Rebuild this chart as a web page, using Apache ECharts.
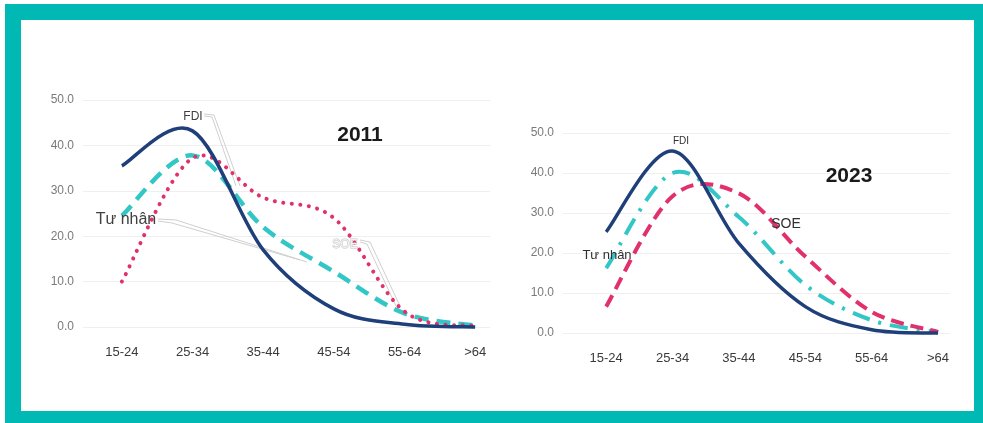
<!DOCTYPE html>
<html>
<head>
<meta charset="utf-8">
<script src="https://cdn.jsdelivr.net/npm/echarts@6/dist/echarts.min.js"></script>
<style>
  html, body { margin: 0; padding: 0; background: #ffffff; }
  #frame { position: absolute; left: 5px; top: 4px; width: 978px; height: 419px; background: #00B8B4; }
  #inner { position: absolute; left: 21px; top: 20px; width: 953px; height: 391px; background: #ffffff; }
  #chart { position: absolute; left: 0; top: 0; width: 983px; height: 423px; }
</style>
</head>
<body>
<div id="frame"></div>
<div id="inner"></div>
<div id="chart"></div>
<script>
// ---- data ----
const categories = ['15-24', '25-34', '35-44', '45-54', '55-64', '>64'];
const yTicks = [0, 10, 20, 30, 40, 50];
const fdi2011 = [35.5, 43.2, 17.0, 4.0, 0.6, 0.0];
const tuNhan2011 = [24.5, 37.8, 22.0, 12.2, 3.0, 0.3];
const soe2011 = [10.0, 37.2, 28.5, 24.0, 3.4, 0.2];
const fdi2023 = [25.3, 45.5, 22.4, 6.6, 0.8, 0.0];
const tuNhan2023 = [16.2, 40.0, 29.0, 12.0, 3.2, 0.2];
const soe2023 = [6.6, 34.2, 34.9, 19.1, 5.3, 0.3];

const NAVY = '#1F3F7A';
const TEAL = '#33C6C6';
const PINK = '#E2306C';
const FONT = "'Liberation Sans', Arial, sans-serif";

function pts(arr) { return arr.map((v, i) => [i, v]); }

function xAxis(gridIndex, min, max) {
  return {
    type: 'value', gridIndex, min, max,
    axisLine: { show: false }, axisTick: { show: false }, splitLine: { show: false },
    axisLabel: {
      customValues: categories.map((c, i) => i),
      formatter: v => categories[Math.round(v)],
      margin: 19, color: '#3a3a3a', fontSize: 13, fontFamily: FONT
    }
  };
}
function yAxis(gridIndex) {
  return {
    type: 'value', gridIndex, min: yTicks[0], max: yTicks[yTicks.length - 1], interval: 10,
    axisLine: { show: false }, axisTick: { show: false },
    splitLine: { lineStyle: { color: '#efefef', width: 1 } },
    axisLabel: { formatter: v => v.toFixed(1), margin: 9, color: '#7a7a7a', fontSize: 12, fontFamily: FONT }
  };
}
// Spreadsheet-style smoothed line (Catmull-Rom through the data points, via the axes' coord())
function curve(name, data, xi, color, width, dash, cap) {
  return {
    name, type: 'custom', xAxisIndex: xi, yAxisIndex: xi, data: pts(data),
    encode: { x: 0, y: 1 },
    renderItem: function (params, api) {
      if (params.dataIndex !== 0) return;
      const p = data.map((v, i) => api.coord([i, v]));
      let d = 'M' + p[0][0] + ' ' + p[0][1];
      for (let i = 0; i < p.length - 1; i++) {
        const p0 = p[Math.max(i - 1, 0)], p1 = p[i], p2 = p[i + 1], p3 = p[Math.min(i + 2, p.length - 1)];
        const c1 = [p1[0] + (p2[0] - p0[0]) / 6, p1[1] + (p2[1] - p0[1]) / 6];
        const c2 = [p2[0] - (p3[0] - p1[0]) / 6, p2[1] - (p3[1] - p1[1]) / 6];
        d += ' C' + c1[0] + ' ' + c1[1] + ' ' + c2[0] + ' ' + c2[1] + ' ' + p2[0] + ' ' + p2[1];
      }
      return {
        type: 'path', shape: { pathData: d },
        style: { fill: null, stroke: color, lineWidth: width, lineDash: dash, lineCap: cap || 'butt', lineJoin: 'round' }
      };
    }
  };
}

const chart = echarts.init(document.getElementById('chart'), null, { renderer: 'canvas' });
const leaderStyle = { stroke: '#cfcfcf', lineWidth: 1, fill: null };
chart.setOption({
  backgroundColor: 'transparent',
  animation: false,
  grid: [
    { left: 83, top: 100, width: 407, height: 227 },
    { left: 563, top: 133, width: 387, height: 200 }
  ],
  xAxis: [xAxis(0, -0.55, 5.21), xAxis(1, -0.65, 5.18)],
  yAxis: [yAxis(0), yAxis(1)],
  series: [
    curve('Tư nhân 2011', tuNhan2011, 0, TEAL, 4.5, [14, 8]),
    curve('SOE 2011', soe2011, 0, PINK, 4, [0.1, 8.5], 'round'),
    curve('FDI 2011', fdi2011, 0, NAVY, 3.5, null),
    curve('Tư nhân 2023', tuNhan2023, 1, TEAL, 4, [18, 9, 3, 9]),
    curve('SOE 2023', soe2023, 1, PINK, 4, [13, 7]),
    curve('FDI 2023', fdi2023, 1, NAVY, 3.5, null)
  ],
  graphic: [
    { type: 'polyline', z: 1, shape: { points: [[204, 114], [214, 115], [240, 186]] }, style: leaderStyle },
    { type: 'polyline', z: 1, shape: { points: [[204, 116], [212, 117], [236, 186]] }, style: leaderStyle },
    { type: 'polyline', z: 1, shape: { points: [[158, 219], [176, 220], [307, 262]] }, style: leaderStyle },
    { type: 'polyline', z: 1, shape: { points: [[158, 221], [172, 223], [300, 260]] }, style: leaderStyle },
    { type: 'polyline', z: 1, shape: { points: [[360, 240], [370, 242], [400, 306]] }, style: leaderStyle },
    { type: 'polyline', z: 1, shape: { points: [[360, 242], [367, 244], [396, 306]] }, style: leaderStyle },
    { type: 'text', z: 10, style: { text: '2011', x: 360, y: 135, align: 'center', verticalAlign: 'middle', font: "bold 21px 'Liberation Sans', sans-serif", fill: '#1a1a1a' } },
    { type: 'text', z: 10, style: { text: '2023', x: 849, y: 176, align: 'center', verticalAlign: 'middle', font: "bold 21px 'Liberation Sans', sans-serif", fill: '#1a1a1a' } },
    { type: 'text', z: 10, style: { text: 'FDI', x: 193, y: 117, align: 'center', verticalAlign: 'middle', font: "12px " + FONT, fill: '#404040' } },
    { type: 'text', z: 10, style: { text: 'Tư nhân', x: 126, y: 220, align: 'center', verticalAlign: 'middle', font: "16px " + FONT, fill: '#404040' } },
    { type: 'text', z: 10, style: { text: 'SOE', x: 345, y: 245, align: 'center', verticalAlign: 'middle', font: "12px " + FONT, fill: '#f2f2f2', stroke: '#c4c4c4', lineWidth: 1 } },
    { type: 'text', z: 10, style: { text: 'FDI', x: 681, y: 141, align: 'center', verticalAlign: 'middle', font: "10px " + FONT, fill: '#303030' } },
    { type: 'text', z: 10, style: { text: 'Tư nhân', x: 607, y: 255, align: 'center', verticalAlign: 'middle', font: "13px " + FONT, fill: '#303030' } },
    { type: 'text', z: 10, style: { text: 'SOE', x: 786, y: 224, align: 'center', verticalAlign: 'middle', font: "14px " + FONT, fill: '#303030' } }
  ]
});
</script>
</body>
</html>
